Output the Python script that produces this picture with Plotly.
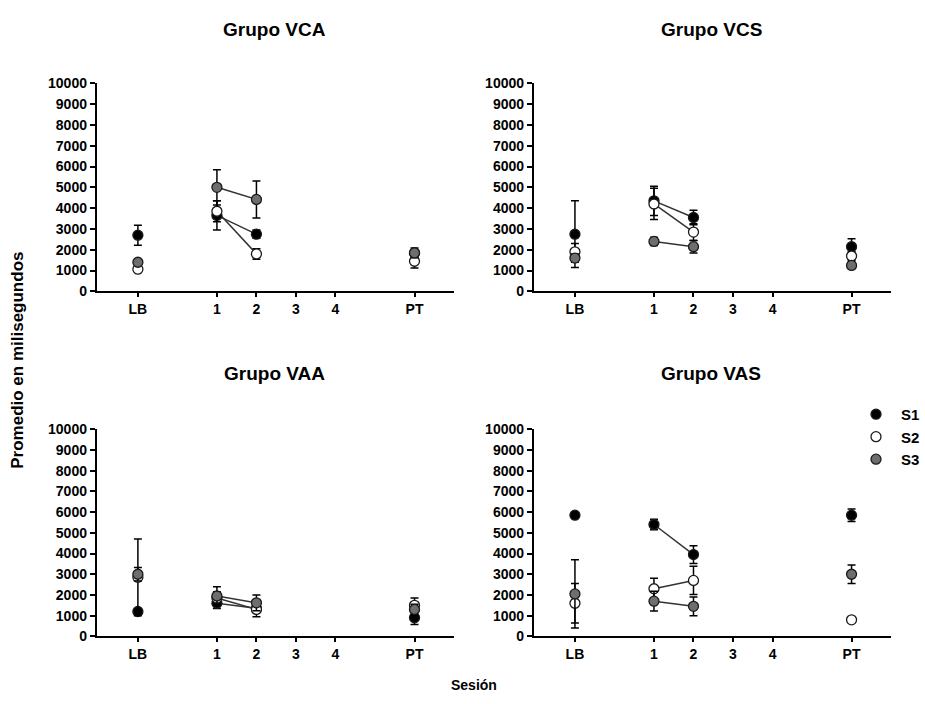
import plotly.graph_objects as go

# ---------------- data ----------------
sessions = ["LB", "1", "2", "PT"]
tick_labels = ["LB", "1", "2", "3", "4", "PT"]
tick_positions = [0, 2, 3, 4, 5, 7]
series_names = ["S1", "S2", "S3"]

vca_s1 = [2700, 3650, 2750, 1850]
vca_s1_err = [480, 700, 200, 150]
vca_s2 = [1070, 3850, 1800, 1450]
vca_s2_err = [100, 500, 250, 320]
vca_s3 = [1400, 5000, 4420, 1850]
vca_s3_err = [100, 850, 890, 230]

vcs_s1 = [2750, 4350, 3550, 2150]
vcs_s1_err = [1600, 700, 350, 380]
vcs_s2 = [1900, 4200, 2850, 1700]
vcs_s2_err = [400, 750, 400, 200]
vcs_s3 = [1600, 2400, 2150, 1250]
vcs_s3_err = [200, 200, 300, 150]

vaa_s1 = [1200, 1600, 1350, 900]
vaa_s1_err = [100, 250, 200, 330]
vaa_s2 = [2850, 1850, 1300, 1500]
vaa_s2_err = [1850, 300, 350, 350]
vaa_s3 = [3000, 1950, 1620, 1300]
vaa_s3_err = [330, 450, 380, 250]

vas_s1 = [5850, 5400, 3950, 5850]
vas_s1_err = [120, 250, 430, 300]
vas_s2 = [1600, 2300, 2700, 800]
vas_s2_err = [950, 500, 680, 80]
vas_s3 = [2050, 1700, 1450, 3000]
vas_s3_err = [1650, 480, 450, 450]

groups = [
    ("Grupo VCA", [(vca_s1, vca_s1_err), (vca_s2, vca_s2_err), (vca_s3, vca_s3_err)]),
    ("Grupo VCS", [(vcs_s1, vcs_s1_err), (vcs_s2, vcs_s2_err), (vcs_s3, vcs_s3_err)]),
    ("Grupo VAA", [(vaa_s1, vaa_s1_err), (vaa_s2, vaa_s2_err), (vaa_s3, vaa_s3_err)]),
    ("Grupo VAS", [(vas_s1, vas_s1_err), (vas_s2, vas_s2_err), (vas_s3, vas_s3_err)]),
]

# ---------------- styling ----------------
W, H = 925, 704
FONT = "Liberation Sans"
fills = ["#000000", "#ffffff", "#6e6e6e"]
outline = "#1a1a1a"
pos_map = dict(zip(tick_labels, tick_positions))
sx = [pos_map[s] for s in sessions]

# panel pixel boxes (left, right, top, bottom)
boxes = [(97, 455, 77, 290), (535, 893, 77, 290),
         (97, 455, 431, 643), (535, 893, 431, 643)]

fig = go.Figure()
layout_axes = {}
annotations = []

for i, ((title, series), (l, r, t, b)) in enumerate(zip(groups, boxes)):
    n = "" if i == 0 else str(i + 1)
    xa, ya = "x" + n, "y" + n
    # connecting lines (sessions 1 and 2 only)
    for k, (vals, errs) in enumerate(series):
        fig.add_trace(go.Scatter(
            x=sx[1:3], y=vals[1:3], mode="lines",
            line=dict(color="#333333", width=1.5),
            xaxis=xa, yaxis=ya, showlegend=False, hoverinfo="skip"))
    for k, (vals, errs) in enumerate(series):
        fig.add_trace(go.Scatter(
            x=sx, y=vals, mode="markers", name=series_names[k],
            legendgroup=series_names[k], showlegend=(i == 0),
            marker=dict(size=10, color=fills[k], line=dict(color=outline, width=1.3)),
            error_y=dict(type="data", array=errs, visible=True,
                         color="#000000", thickness=1.5, width=4),
            xaxis=xa, yaxis=ya))
    layout_axes["xaxis" + n] = dict(
        domain=[l / W, r / W], anchor=ya, range=[-1.04, 8.0],
        tickmode="array", tickvals=tick_positions, ticktext=tick_labels,
        ticks="outside", ticklen=4, tickwidth=1.5, tickcolor="black",
        showline=True, linewidth=2, linecolor="black",
        showgrid=False, zeroline=False,
        tickfont=dict(family=FONT, size=14, color="black", weight="bold"))
    layout_axes["yaxis" + n] = dict(
        domain=[1 - b / H, 1 - t / H], anchor=xa, range=[0, 10000],
        tickmode="linear", tick0=0, dtick=1000, tickformat="d",
        ticks="outside", ticklen=5, tickwidth=1.5, tickcolor="black",
        showline=True, linewidth=2, linecolor="black",
        showgrid=False, zeroline=False,
        tickfont=dict(family=FONT, size=14, color="black", weight="bold"))
    annotations.append(dict(
        text=title, x=((l + r) / 2 - 1) / W, y=1 - (22 if i < 2 else 374) / H,
        xref="paper", yref="paper", showarrow=False,
        xanchor="center", yanchor="middle",
        font=dict(family=FONT, size=19, color="black", weight="bold")))

annotations.append(dict(
    text="Promedio en milisegundos", x=18 / W, y=1 - 360 / H,
    xref="paper", yref="paper", showarrow=False, textangle=-90,
    xanchor="center", yanchor="middle",
    font=dict(family=FONT, size=17, color="black", weight="bold")))
annotations.append(dict(
    text="Sesión", x=475 / W, y=1 - 693 / H,
    xref="paper", yref="paper", showarrow=False,
    xanchor="center", yanchor="middle",
    font=dict(family=FONT, size=14, color="black", weight="bold")))

fig.update_layout(
    width=W, height=H, autosize=False,
    margin=dict(l=0, r=0, t=0, b=0),
    paper_bgcolor="white", plot_bgcolor="white",
    showlegend=True,
    legend=dict(x=853 / W, y=1 - 399 / H, xanchor="left", yanchor="top",
                bgcolor="rgba(0,0,0,0)", borderwidth=0, tracegroupgap=0,
                itemwidth=40,
                font=dict(family=FONT, size=15, color="black", weight="bold")),
    annotations=annotations,
    **layout_axes)

fig.write_html("out.html")
